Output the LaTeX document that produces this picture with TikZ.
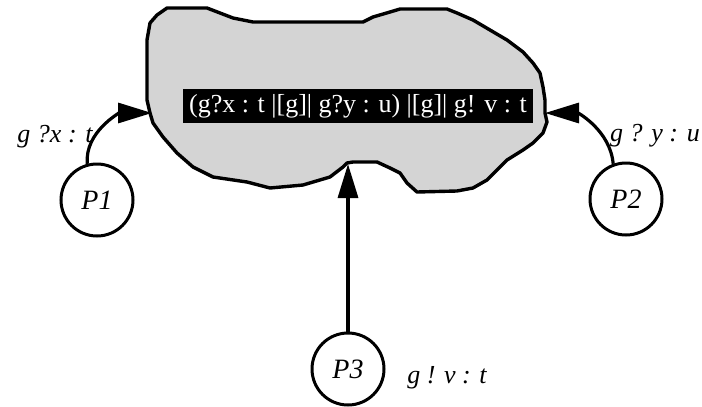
\documentclass[tikz,border=0pt]{standalone}
\usepackage{fontspec}
\setmainfont{Liberation Serif}
\usetikzlibrary{arrows.meta}

\tikzset{
  proc/.style={draw, circle, line width=3pt, minimum size=72pt, inner sep=0pt,
    font=\fontsize{28}{28}\selectfont\itshape},
  chan/.style={line width=3.2pt, -{Triangle[length=34pt,width=20pt]}},
  lbl/.style={font=\fontsize{26}{26}\selectfont\itshape, inner sep=0pt},
  blob/.style={fill=black!17, draw=black, line width=3.4pt, line join=round},
  expr/.style={fill=black, text=white, minimum width=350pt, minimum height=34pt,
    inner sep=0pt, font=\fontsize{26}{26}\selectfont}
}

\begin{document}
\begin{tikzpicture}[x=1pt, y=-1pt]
\useasboundingbox (0,0) rectangle (702,407);

% the composed behaviour region
\draw[blob] (147,40) -- (150,23) -- (157,15) -- (167,8) -- (207,8) -- (220,13)
  -- (233,18) -- (253,22) -- (363,22) -- (373,17) -- (390,12) -- (400,9)
  -- (447,9) -- (457,13) -- (473,20) -- (490,30) -- (507,40) -- (523,52)
  -- (533,63) -- (540,73) -- (543,87) -- (545,100) -- (545,113) -- (547,122)
  -- (543,133) -- (533,143) -- (523,150) -- (507,160) -- (497,170) -- (487,180)
  -- (473,188) -- (457,191) -- (417,192) -- (407,183) -- (400,173) -- (390,168)
  -- (377,162) -- (353,162) -- (347,163) -- (343,167) -- (330,177) -- (303,185)
  -- (270,188) -- (247,182) -- (213,177) -- (193,167) -- (177,153) -- (163,137)
  -- (153,123) -- (150,113) -- (147,100) -- cycle;

\node[expr] (e) at (358,106) {(g?x : t |[g]| g?y : u) |[g]| g! v : t};

% entry points on the region border
\coordinate (inL) at (152,113);
\coordinate (inR) at (545,113);
\coordinate (inB) at (348,164);

% processes
\node[proc] (p1) at (97,200) {P1};
\node[proc] (p2) at (626,199) {P2};
\node[proc] (p3) at (348,369) {P3};

% channels
\draw[chan] (p1.105) to[out=95, in=180] (inL);
\draw[chan] (p2.110) to[out=95, in=0] (inR);
\draw[chan] (p3.north) -- (inB);

% channel labels
\node[lbl] (l1) at (55,137) {g ?x : t};
\node[lbl] (l2) at (655,136) {g ? y : u};
\node[lbl] (l3) at (447,378) {g ! v : t};
\end{tikzpicture}
\end{document}
